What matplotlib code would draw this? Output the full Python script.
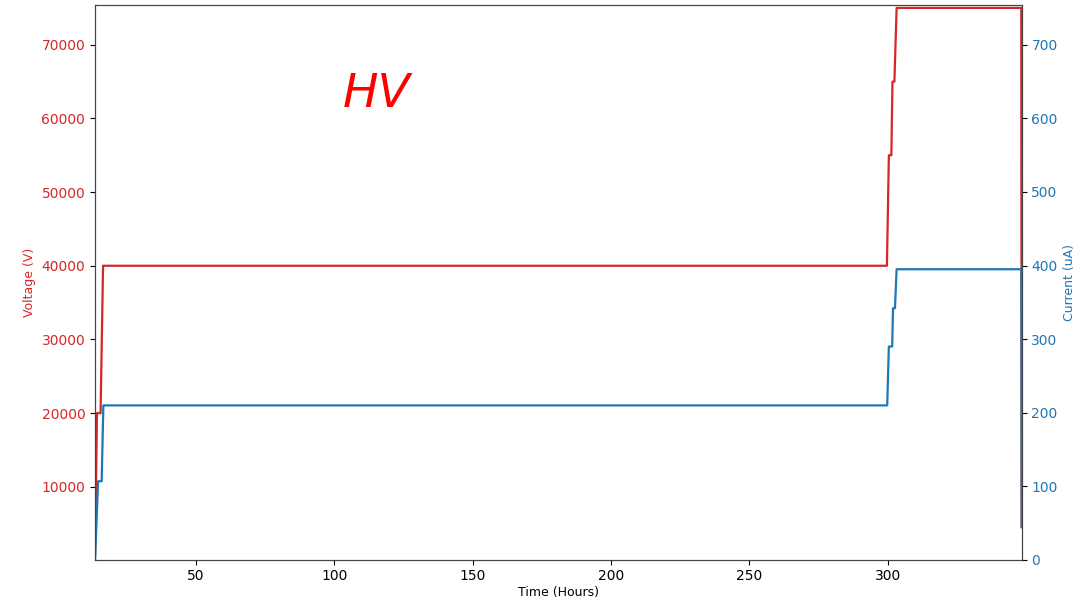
import matplotlib
matplotlib.use("Agg")
import matplotlib.pyplot as plt

# HV conditioning run: supply voltage and current vs elapsed time
time_v = [13.5, 14.2, 15.5, 16.4, 299.7, 300.4, 301.3, 301.7, 302.4, 303.2, 348.25, 348.4]
voltage = [500, 20000, 20000, 40000, 40000, 55000, 55000, 65000, 65000, 75000, 75000, 4500]

time_i = [13.5, 14.6, 15.9, 16.5, 299.8, 300.4, 301.6, 301.9, 302.6, 303.2, 348.25, 348.4]
current = [0, 107, 107, 210, 210, 290, 290, 342, 342, 395, 395, 45]

xlim = (13.5, 348.4)
v_lim = (60, 75400)
i_lim = (0, 754)

red = "#d62728"
blue = "#1f77b4"

fig = plt.figure(figsize=(10.8, 6.0), dpi=100)
ax = fig.add_axes([0.088, 0.0667, 0.858, 0.925])
ax.plot(time_v, voltage, color=red, lw=1.6)
ax.set_xlim(*xlim)
ax.set_ylim(*v_lim)
ax.set_xlabel("Time (Hours)", fontsize=9, labelpad=2)
ax.set_ylabel("Voltage (V)", color=red, fontsize=9)
ax.tick_params(axis="y", labelcolor=red, labelsize=10)
ax.tick_params(axis="x", labelsize=10, pad=3)

ax2 = ax.twinx()
ax2.plot(time_i, current, color=blue, lw=1.6)
ax2.set_ylim(*i_lim)
ax2.set_ylabel("Current (uA)", color=blue, fontsize=9)
ax2.tick_params(axis="y", labelcolor=blue, labelsize=10)

for a in (ax, ax2):
    for s in a.spines.values():
        s.set_color("#444444")

ax.text(115.4, 63300, "HV", color="#ff0000", fontsize=34, style="italic",
        ha="center", va="center")

fig.savefig("out.png", dpi=100)
